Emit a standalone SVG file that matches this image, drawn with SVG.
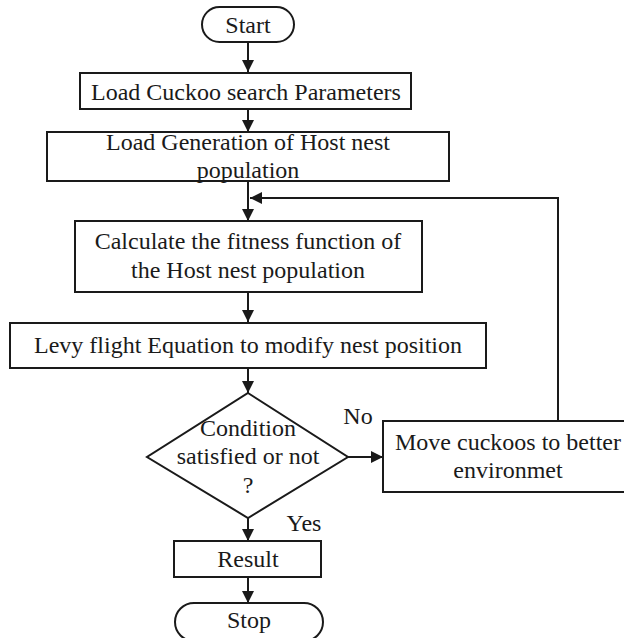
<svg xmlns="http://www.w3.org/2000/svg" width="624" height="638" viewBox="0 0 624 638">
  <style>
    .shape { fill: #ffffff; stroke: #1a1a1a; stroke-width: 2; }
    .edge { fill: none; stroke: #1a1a1a; stroke-width: 2; }
    .lbl { font-family: 'Liberation Serif', 'Times New Roman', Times, serif; font-size: 24px; fill: #1a1a1a; text-anchor: middle; }
  </style>
  <defs>
    <marker id="arrow" viewBox="0 0 12 12" refX="12" refY="6" markerWidth="12" markerHeight="12" markerUnits="userSpaceOnUse" orient="auto">
      <path d="M0,0 L12,6 L0,12 Z" fill="#1a1a1a"/>
    </marker>
  </defs>
  <rect width="624" height="638" fill="#ffffff"/>

  <g id="connectors">
    <line class="edge" x1="248" y1="42" x2="248" y2="72" marker-end="url(#arrow)"/>
    <line class="edge" x1="248" y1="109" x2="248" y2="132" marker-end="url(#arrow)"/>
    <line class="edge" x1="248" y1="181" x2="248" y2="221" marker-end="url(#arrow)"/>
    <line class="edge" x1="248" y1="292" x2="248" y2="322" marker-end="url(#arrow)"/>
    <line class="edge" x1="248" y1="368" x2="248" y2="393" marker-end="url(#arrow)"/>
    <line class="edge" x1="348" y1="457" x2="383" y2="457" marker-end="url(#arrow)"/>
    <polyline class="edge" points="558,421 558,198 250,198" marker-end="url(#arrow)"/>
    <line class="edge" x1="248" y1="518" x2="248" y2="541" marker-end="url(#arrow)"/>
    <line class="edge" x1="248" y1="577" x2="248" y2="603" marker-end="url(#arrow)"/>
    <text class="lbl" x="358" y="424">No</text>
    <text class="lbl" x="304" y="531">Yes</text>
  </g>

  <g id="start">
    <rect class="shape" x="202" y="7" width="92" height="35" rx="17.5"/>
    <text class="lbl" x="248" y="33">Start</text>
  </g>

  <g id="load-params">
    <rect class="shape" x="80" y="73" width="331" height="36"/>
    <text class="lbl" x="246" y="100">Load Cuckoo search Parameters</text>
  </g>

  <g id="load-population">
    <rect class="shape" x="47" y="132" width="402" height="49"/>
    <text class="lbl" x="248" y="150">Load Generation of Host nest</text>
    <text class="lbl" x="248" y="178">population</text>
  </g>

  <g id="fitness">
    <rect class="shape" x="75" y="221" width="347" height="71"/>
    <text class="lbl" x="248" y="249">Calculate the fitness function of</text>
    <text class="lbl" x="248" y="278">the Host nest population</text>
  </g>

  <g id="levy-flight">
    <rect class="shape" x="10" y="323" width="476" height="45"/>
    <text class="lbl" x="248" y="353">Levy flight Equation to modify nest position</text>
  </g>

  <g id="condition">
    <polygon class="shape" points="248,393 348,457 248,518 147,457"/>
    <text class="lbl" x="248" y="436">Condition</text>
    <text class="lbl" x="248" y="464">satisfied or not</text>
    <text class="lbl" x="248" y="493">?</text>
  </g>

  <g id="move-cuckoos">
    <rect class="shape" x="383" y="421" width="250" height="71"/>
    <text class="lbl" x="508" y="450">Move cuckoos to better</text>
    <text class="lbl" x="508" y="478">environmet</text>
  </g>

  <g id="result">
    <rect class="shape" x="174" y="541" width="147" height="36"/>
    <text class="lbl" x="248" y="567">Result</text>
  </g>

  <g id="stop">
    <rect class="shape" x="175" y="603" width="148" height="38" rx="19"/>
    <text class="lbl" x="249" y="628">Stop</text>
  </g>
</svg>
